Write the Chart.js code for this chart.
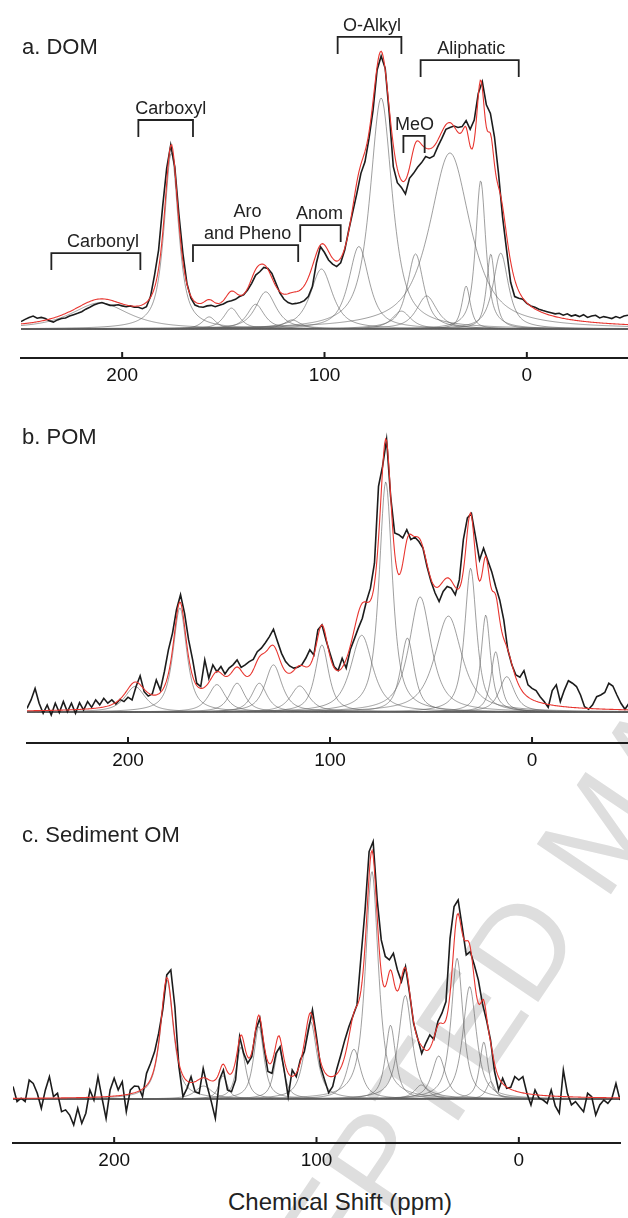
<!DOCTYPE html>
<html><head><meta charset="utf-8">
<script src="https://cdn.jsdelivr.net/npm/chart.js@4.4.1/dist/chart.umd.min.js"></script>
<style>
html,body{margin:0;padding:0;background:#fff;}
body{width:628px;height:1218px;position:relative;overflow:hidden;font-family:"Liberation Sans",Arial,sans-serif;}
canvas{position:absolute;left:0;z-index:1;}
#wm{position:absolute;left:600px;top:830px;transform:translate(-50%,-50%) rotate(-56deg);font-size:130px;color:#dedede;white-space:nowrap;z-index:0;line-height:1;}
#xlabel{position:absolute;left:340px;top:1190px;transform:translateX(-50%);font-size:24px;color:#222;white-space:nowrap;z-index:2;line-height:24px;}
</style></head><body>
<div id="wm">ACCEPTED MANUSCRIPT</div>
<canvas id="cA" width="628" height="398" style="top:0px"></canvas>
<canvas id="cB" width="628" height="383" style="top:400px"></canvas>
<canvas id="cC" width="628" height="393" style="top:790px"></canvas>
<div id="xlabel">Chemical Shift (ppm)</div>
<script>
// ---- sampling of the observed spectra (ppm) ----
const shiftStart = 250, shiftStep = 2;
const tickValues = [200, 100, 0];
const tickLabels = ['200', '100', '0'];

// ---- a. DOM observed spectrum (250 -> -50 ppm, every 2 ppm) ----
const domSignal = [
  2.7, 3.5, 4.2, 4.7, 3.9, 4.2, 3.8, 3.0, 2.5, 3.3,
  3.8, 4.0, 4.7, 5.2, 5.7, 6.3, 7.2, 7.9, 8.7, 9.3,
  9.6, 9.1, 8.6, 8.6, 8.8, 8.4, 8.1, 8.4, 7.9, 7.9,
  7.4, 8.1, 11.8, 19.6, 28.7, 44.5, 58.4, 66.9, 59, 42,
  27.5, 16.6, 11.2, 8.7, 8.1, 7.9, 8.4, 8.6, 8.1, 8.6,
  9.1, 9.9, 10.3, 10.8, 11.8, 12.4, 14.2, 16.6, 19.6, 20.8,
  22.4, 22, 20.2, 16.6, 13, 10.8, 9.6, 9.1, 9.3, 9.6,
  10.3, 11.8, 15.4, 24, 29.9, 27.8, 25.1, 23.6, 22.7, 24.1,
  28.7, 36, 42.7, 49.3, 56.6, 60.8, 69.3, 79.6, 94.2, 99.3,
  94.8, 78.4, 59, 53.2, 51.5, 49.1, 54.8, 56.6, 58.8, 60.5,
  62.7, 62.1, 62.9, 66.3, 69.3, 72.6, 73.3, 73.8, 73.3, 73.6,
  75.8, 72.6, 76, 85.7, 89.9, 81.5, 78.4, 69.9, 56.6, 40.8,
  28.7, 17, 11.8, 11.2, 10.8, 9.3, 8.4, 7.9, 7.2, 6.7,
  6.3, 5.9, 5.5, 5.7, 5.0, 5.5, 4.7, 5.1, 4.5, 5.2,
  4.2, 4.7, 5.0, 4.0, 4.5, 4.2, 3.8, 4.5, 4.0, 4.7,
  5.0
];
// fitted components (centre ppm, height, half width ppm)
const domCenters = [211, 175.7, 157, 146, 134, 129, 116, 101.5, 83, 72, 62, 55, 49.5, 38, 30, 22.8, 17.8, 12.9];
const domHeights = [9.5, 64, 4.4, 7.6, 9, 13.5, 3.3, 21.8, 30, 84, 6.5, 27.3, 12, 64, 15.6, 54, 27.3, 27.6];
const domWidths  = [17, 4.2, 4, 4.5, 5, 6, 5, 6.5, 6, 6.5, 5.5, 4.8, 6, 12, 2.5, 3, 2.5, 4.5];

// ---- b. POM ----
const pomSignal = [
  1.3, 4.4, 8.6, 3.2, -0.5, 2.6, -1.1, 3.2, -0.2, 3.8,
  0.1, 3.2, -0.5, 3.4, 0.7, 3.8, 1.7, 4.4, 2.6, 5,
  3.2, 4.4, 2.9, 4.6, 3.8, 5.4, 4.4, 9.3, 13.2, 7.4,
  5.8, 6.6, 11.7, 8, 14.7, 22.7, 28.7, 37.3, 42.8, 36,
  26.3, 19, 10.5, 9.3, 19, 12.3, 17.2, 14.7, 16.6, 13.9,
  16, 17.2, 19, 16.3, 17.2, 18.4, 19.2, 22, 23.3, 25.3,
  27.5, 30.2, 25.7, 21.4, 18.4, 16.8, 16, 16.3, 17.2, 19.6,
  22.7, 20.8, 30, 31.8, 26.3, 21.4, 16.6, 15.1, 19.6, 16,
  22.7, 26.6, 30.6, 34.2, 40.3, 45.2, 54.3, 82.3, 89.6, 99.4,
  78.7, 65.3, 64.7, 63.5, 66.5, 62.9, 63.8, 62.2, 59.8, 53.1,
  47.6, 43.4, 40.3, 44, 45.8, 45.2, 42.8, 48.2, 62.9, 70.8,
  72.4, 64.1, 55.5, 59.8, 55.5, 51.3, 45.8, 40.9, 33.6, 22.7,
  17.2, 13.5, 12.7, 15.1, 9.9, 8.6, 7.8, 5.6, 3.8, 1.7,
  7.8, 9.9, 3.8, 8, 11.4, 10.5, 9.3, 6.2, 1.9, 1,
  2.6, 5.6, 6.2, 7.1, 10.5, 9.5, 6.2, 3.2, 1, 3.2,
  4
];
const pomCenters = [196.5, 174.3, 156, 146, 135, 128, 115, 104, 84.3, 72.4, 61.7, 55.4, 41.4, 30.4, 22.9, 18, 12.5];
const pomHeights = [9.3, 38, 10, 10.5, 10.5, 17.2, 9.5, 24.5, 28, 84, 27, 42, 35, 52.5, 35.4, 22, 12.9];
const pomWidths  = [6, 4, 5, 4.5, 4.5, 5, 5.5, 4, 6.5, 3.9, 4, 6.5, 8, 3.5, 2.8, 2.8, 4.5];

// ---- c. Sediment OM ----
const sedSignal = [
  4.8, -1, 0.3, -1, 7.3, 6, 2.2, -3.6, 3.5, 8.6,
  0.9, 2.2, -4.9, -4.2, -6.2, -10, -3.6, -9.4, -5.5, 3.5,
  -0.4, 8.6, 0.3, -7.5, 3.5, 8, 3.5, 6.7, -4.9, 3.5,
  5, 4.8, 0.9, 9.9, 13.8, 18.3, 25.4, 34.4, 47.9, 49.8,
  35.6, 12.5, 0.9, 4.1, 8.6, 2.8, 2.2, 11.8, 4.8, -1,
  -7.5, 7.3, 11.2, 3.5, 2.8, 7.3, 24.1, 17.6, 13.8, 16.3,
  26.6, 31.1, 20.2, 10.6, 9.9, 17.6, 20.2, 11.2, 0.9, 11.2,
  8.6, 15.1, 18.3, 26.6, 34.4, 24, 12.5, 7.3, 2.4, 4.8,
  11.5, 17, 22.8, 27.9, 32, 36.3, 55, 73, 95.5, 99.4,
  76.8, 61.4, 55, 53.7, 56.2, 49.8, 45.3, 51.1, 40.8, 29.2,
  23.4, 17.6, 21.5, 24.7, 23, 29.9, 33.1, 37.6, 62, 74.3,
  76.8, 66.5, 55.6, 56.9, 51.7, 45.9, 36.9, 30.5, 22.8, 10.6,
  3.5, 8, 4.1, 4.5, 8.6, 7.3, 8.6, 2.2, -2.3, 3.5,
  0.3, -0.4, -1.7, 3.5, -2.7, -5.5, 11.2, 2.2, -2.3, -1,
  -3, -4.9, 2.2, 0.9, -6.2, -2.3, -0.4, -1.7, 0.3, 6,
  -0.4
];
const sedCenters = [173.9, 155.8, 146.2, 137.3, 128.5, 118.6, 103, 81.5, 72.6, 63.4, 56.1, 48.2, 39.6, 30.5, 24.3, 17.3, 13.9];
const sedHeights = [46, 5, 9, 20, 28, 19.5, 30, 19.2, 87.8, 28.5, 40, 5.4, 16.6, 54.3, 43.4, 22, 6.7];
const sedWidths  = [3.8, 5, 2.5, 2.8, 3, 2.8, 3.8, 4, 3.8, 3, 4, 4, 4, 3.5, 4, 2.5, 2.5];

// ---- region brackets of panel a ----
const regionNames   = [['Carbonyl'], ['Carboxyl'], ['Aro', 'and Pheno'], ['Anom'], ['O-Alkyl'], ['MeO'], ['Aliphatic']];
const regionFrom    = [235, 192, 165, 112, 93.5, 61, 52.5];
const regionTo      = [191, 165, 113, 92, 62, 50.5, 4];
const regionLevel   = [27.6, 76, 30.5, 37.8, 106.2, 70.2, 97.8];
const regionLabelAt = [209.5, 176, 138, 102.5, 76.5, 55.5, 27.5];

const lorentzFraction = 0.8;
const fineStep = 0.5;
const FONT = '"Liberation Sans", Arial, sans-serif';

function peakShape(x, c, h, w) {
  const d = (x - c) / w;
  return h * (lorentzFraction / (1 + d * d) + (1 - lorentzFraction) * Math.exp(-Math.LN2 * d * d));
}

function buildDatasets(signal, centers, heights, widths) {
  const obs = signal.map((v, i) => ({x: shiftStart - i * shiftStep, y: v}));
  const n = Math.round(300 / fineStep);
  const fineX = [];
  for (let i = 0; i <= n; i++) fineX.push(shiftStart - i * fineStep);
  const comps = centers.map((c, k) => fineX.map(x => ({x: x, y: peakShape(x, c, heights[k], widths[k])})));
  const fit = fineX.map((x, i) => ({x: x, y: comps.reduce((s, cp) => s + cp[i].y, 0)}));
  const ds = [
    {data: fit, borderColor: '#e8352f', borderWidth: 1.1},
    {data: obs, borderColor: '#1c1c1c', borderWidth: 1.6}
  ];
  comps.forEach(d => ds.push({data: d, borderColor: 'rgba(95,95,95,0.6)', borderWidth: 1}));
  return ds;
}

const decor = {
  id: 'decor',
  afterDraw(chart, args, opts) {
    const ctx = chart.ctx, x = chart.scales.x, y = chart.scales.y, area = chart.chartArea;
    ctx.save();
    ctx.strokeStyle = '#1c1c1c';
    ctx.lineWidth = 2;
    tickValues.forEach(v => {
      const px = x.getPixelForValue(v);
      ctx.beginPath(); ctx.moveTo(px, area.bottom); ctx.lineTo(px, area.bottom - 6); ctx.stroke();
    });
    ctx.fillStyle = '#222';
    ctx.textAlign = 'left';
    ctx.textBaseline = 'alphabetic';
    ctx.font = '22px ' + FONT;
    ctx.fillText(opts.title, 22, opts.titleY);
    if (opts.brackets) {
      ctx.font = '18px ' + FONT;
      ctx.textAlign = 'center';
      ctx.lineWidth = 1.8;
      ctx.strokeStyle = '#222';
      regionNames.forEach((lines, i) => {
        const x1 = x.getPixelForValue(regionFrom[i]);
        const x2 = x.getPixelForValue(regionTo[i]);
        const yy = y.getPixelForValue(regionLevel[i]);
        ctx.beginPath();
        ctx.moveTo(x1, yy + 17); ctx.lineTo(x1, yy); ctx.lineTo(x2, yy); ctx.lineTo(x2, yy + 17);
        ctx.stroke();
        const lx = x.getPixelForValue(regionLabelAt[i]);
        for (let k = lines.length - 1, j = 0; k >= 0; k--, j++) {
          ctx.fillText(lines[k], lx, yy - 6 - j * 22);
        }
      });
    }
    ctx.restore();
  }
};

function makePanel(id, signal, centers, heights, widths, lay) {
  return new Chart(document.getElementById(id), {
    type: 'line',
    data: {datasets: buildDatasets(signal, centers, heights, widths)},
    plugins: [decor],
    options: {
      responsive: false,
      animation: false,
      events: [],
      layout: {padding: {left: lay.left, right: lay.right, top: 10, bottom: 0}},
      elements: {point: {radius: 0}, line: {tension: 0}},
      plugins: {
        legend: {display: false},
        tooltip: {enabled: false},
        decor: {title: lay.title, titleY: lay.titleY, brackets: lay.brackets}
      },
      scales: {
        x: {
          type: 'linear', reverse: true, min: lay.xMin, max: shiftStart,
          afterBuildTicks: s => { s.ticks = tickValues.map(v => ({value: v})); },
          afterFit: s => { s.height = 40; s.paddingLeft = 0; s.paddingRight = 0; },
          grid: {display: false, drawTicks: false},
          border: {display: true, color: '#1c1c1c', width: 2},
          ticks: {
            padding: 6, autoSkip: false, maxRotation: 0, color: '#111',
            font: {family: FONT, size: 19},
            callback: v => tickLabels[tickValues.indexOf(v)]
          }
        },
        y: {display: false, min: lay.yMin, max: lay.yMax}
      }
    }
  });
}

makePanel('cA', domSignal, domCenters, domHeights, domWidths,
  {left: 21, right: 0, xMin: -50, yMin: -10.55, yMax: 116.0, title: 'a. DOM', titleY: 54, brackets: true});
makePanel('cB', pomSignal, pomCenters, pomHeights, pomWidths,
  {left: 27, right: 0, xMin: -47.5, yMin: -11.31, yMax: 110.2, title: 'b. POM', titleY: 44, brackets: false});
makePanel('cC', sedSignal, sedCenters, sedHeights, sedWidths,
  {left: 13, right: 8, xMin: -50, yMin: -16.99, yMax: 115.4, title: 'c. Sediment OM', titleY: 52, brackets: false});
</script>
</body></html>
